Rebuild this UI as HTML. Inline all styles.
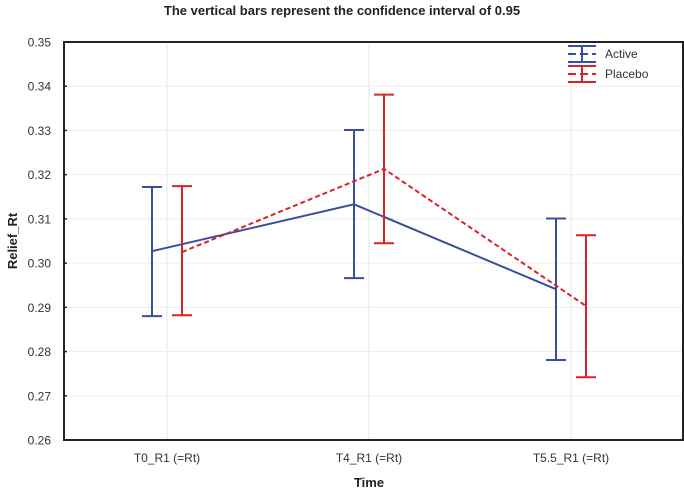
<!DOCTYPE html>
<html><head><meta charset="utf-8"><style>
body{margin:0;background:#fff}
svg text{font-family:"Liberation Sans",sans-serif}
</style></head><body>
<svg id="c" width="684" height="493"></svg>
<script>
const categories=["T0_R1 (=Rt)","T4_R1 (=Rt)","T5.5_R1 (=Rt)"];
const activeMean=[0.3027,0.3133,0.2941];
const activeLow=[0.2880,0.2966,0.2781];
const activeHigh=[0.3172,0.3301,0.3101];
const placeboMean=[0.3025,0.3213,0.2903];
const placeboLow=[0.2882,0.3045,0.2742];
const placeboHigh=[0.3174,0.3381,0.3063];
const yTicks=[0.26,0.27,0.28,0.29,0.30,0.31,0.32,0.33,0.34,0.35];

const NS="http://www.w3.org/2000/svg",svg=document.getElementById('c');
const L=64,R=683,T=42,B=440;
const y=v=>B-(v-0.26)/(0.09)*(B-T);
const x=i=>167+i*202;
function el(t,a,p){const e=document.createElementNS(NS,t);for(const k in a)e.setAttribute(k,a[k]);(p||svg).appendChild(e);return e;}
function txt(s,a){const e=el('text',a);e.textContent=s;return e;}

let t=txt("The vertical bars represent the confidence interval of 0.95",{x:342,y:15,'text-anchor':'middle','font-size':13,'font-weight':'bold',fill:'#222'});


yTicks.forEach(v=>{
  const g=el('line',{x1:L,x2:R,y1:y(v),y2:y(v),stroke:'#ddd','stroke-dasharray':'1,1'});
  
  const tk=el('line',{x1:L,x2:L+3,y1:y(v),y2:y(v),stroke:'#222','stroke-width':1.5});
  
  const l=txt(v.toFixed(2),{x:L-13,y:y(v)+4.5,'text-anchor':'end','font-size':12,fill:'#333'});
  
});
categories.forEach((c,i)=>{
  const g=el('line',{x1:x(i),x2:x(i),y1:T,y2:B,stroke:'#e6e6e6'});
  
  const l=txt(c,{x:x(i),y:462,'text-anchor':'middle','font-size':12,fill:'#333'});
  
});
const box=el('rect',{x:L,y:T,width:R-L,height:B-T,fill:'none',stroke:'#222','stroke-width':2});


function series(name,mean,lo,hi,off,color,dash){
  const pts=mean.map((m,i)=>(x(i)+off)+','+y(m)).join(' ');
  const pl=el('polyline',{points:pts,fill:'none',stroke:color,'stroke-width':2,'stroke-dasharray':dash});
  
  mean.forEach((m,i)=>{
    const cx=x(i)+off;
    const g=el('g',{stroke:color,'stroke-width':2});
    
    el('line',{x1:cx,x2:cx,y1:y(lo[i]),y2:y(hi[i])},g);
    el('line',{x1:cx-10,x2:cx+10,y1:y(lo[i]),y2:y(lo[i])},g);
    el('line',{x1:cx-10,x2:cx+10,y1:y(hi[i]),y2:y(hi[i])},g);
  });
}
series('active',activeMean,activeLow,activeHigh,-15,'#3a4f9a','none');
series('placebo',placeboMean,placeboLow,placeboHigh,15,'#d9232a','5,3');

function legend(label,yy,color,i){
  const g=el('g',{stroke:color,'stroke-width':2});
  
  el('line',{x1:568,x2:596,y1:yy-8,y2:yy-8},g);
  el('line',{x1:568,x2:596,y1:yy+8,y2:yy+8},g);
  el('line',{x1:568,x2:596,y1:yy,y2:yy,'stroke-dasharray':'8,4'},g);
  el('line',{x1:582,x2:582,y1:yy-8,y2:yy+8},g);
  const l=txt(label,{x:605,y:yy+4,'font-size':12,fill:'#333'});
  
}
legend('Active',54,'#3a4f9a');
legend('Placebo',74,'#d9232a');

t=txt("Relief_Rt",{x:0,y:0,'text-anchor':'middle','font-size':13,'font-weight':'bold',fill:'#222',transform:'translate(17,241) rotate(-90)'});

t=txt("Time",{x:369,y:487,'text-anchor':'middle','font-size':13,'font-weight':'bold',fill:'#222'});

</script>
</body></html>
